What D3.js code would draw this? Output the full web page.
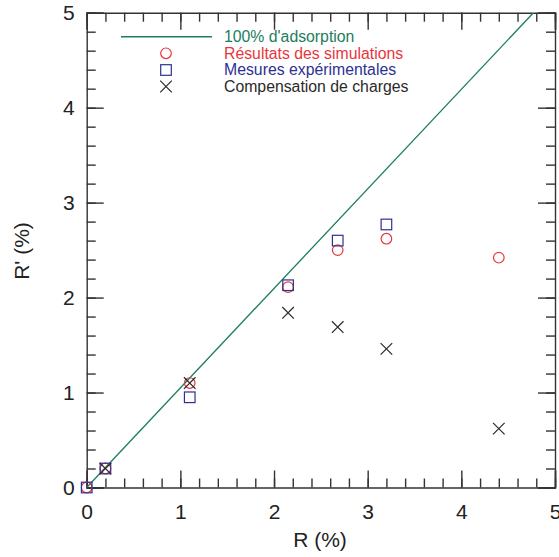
<!DOCTYPE html>
<html><head><meta charset="utf-8">
<script src="https://cdn.jsdelivr.net/npm/d3@7"></script>
<style>body{margin:0;background:#fff}svg{display:block}text{font-family:"Liberation Sans",Arial,sans-serif}</style>
</head><body>
<svg id="c" width="559" height="557"></svg>
<script>
// ---- data ----
const xTicks = [0, 1, 2, 3, 4, 5];
const yTicks = [0, 1, 2, 3, 4, 5];
const minorTicks = d3.range(0, 5.0001, 0.2);
const adsLine = [[0, 0], [4.77, 5]];
const simR = [0, 0.2, 1.1, 2.15, 2.68, 3.2, 4.4];
const simVal = [0, 0.2, 1.1, 2.11, 2.50, 2.62, 2.42];
const mesR = [0, 0.2, 1.1, 2.15, 2.68, 3.2];
const mesVal = [0, 0.2, 0.95, 2.13, 2.60, 2.77];
const compR = [0.2, 1.1, 2.15, 2.68, 3.2, 4.4];
const compVal = [0.2, 1.1, 1.84, 1.69, 1.46, 0.62];
const legendLabels = ["100% d'adsorption", "Résultats des simulations", "Mesures expérimentales", "Compensation de charges"];
const colors = {green: "#1d7d5c", red: "#e8363c", blue: "#2e3192", black: "#2a2a2a"};

const svg = d3.select("#c");
const L = 86.7, R = 555, T = 12.7, B = 487.5;
const x = d3.scaleLinear().domain([0, 5]).range([L, R]);
const y = d3.scaleLinear().domain([0, 5]).range([B, T]);
const axisCol = "#333";

function drawAxis(gen, tr, major, labels, pad) {
  const g = svg.append("g").attr("transform", tr);
  g.call(gen.tickValues(minorTicks).tickSize(-9).tickFormat(""));
  const g2 = svg.append("g").attr("transform", tr);
  g2.call(gen.tickValues(major).tickSize(-17).tickPadding(pad).tickFormat(labels ? d3.format("d") : ""));
  [g, g2].forEach(gg => {
    gg.selectAll("path,line").attr("stroke", axisCol).attr("stroke-width", 1.4);
    gg.selectAll("text").attr("font-size", 21).attr("fill", "#222").attr("font-family", '"Liberation Sans",Arial,sans-serif');
  });
  g.select(".domain").remove();
  return g2;
}
drawAxis(d3.axisBottom(x), `translate(0,${B})`, xTicks, true, 17);
drawAxis(d3.axisTop(x), `translate(0,${T})`, xTicks, false, 10);
drawAxis(d3.axisLeft(y), `translate(${L},0)`, yTicks, true, 12);
drawAxis(d3.axisRight(y), `translate(${R},0)`, yTicks, false, 10);

// clip
svg.append("clipPath").attr("id", "clip").append("rect").attr("x", L).attr("y", T).attr("width", R - L).attr("height", B - T);

// 100% line
svg.append("path").attr("clip-path", "url(#clip)")
  .attr("d", d3.line().x(d => x(d[0])).y(d => y(d[1]))(adsLine))
  .attr("fill", "none").attr("stroke", colors.green).attr("stroke-width", 1.3);

function circle(g, cx, cy) {
  g.append("circle").attr("cx", cx).attr("cy", cy).attr("r", 5.3)
    .attr("fill", "none").attr("stroke", colors.red).attr("stroke-width", 1.2);
}
function square(g, cx, cy) {
  g.append("rect").attr("x", cx - 5.3).attr("y", cy - 5.3).attr("width", 10.6).attr("height", 10.6)
    .attr("fill", "none").attr("stroke", colors.blue).attr("stroke-width", 1.2);
}
function cross(g, cx, cy) {
  const s = 5.8;
  g.append("path").attr("d", `M${cx - s},${cy - s}L${cx + s},${cy + s}M${cx - s},${cy + s}L${cx + s},${cy - s}`)
    .attr("fill", "none").attr("stroke", colors.black).attr("stroke-width", 1.2);
}
const pts = svg.append("g");
simR.forEach((r, i) => circle(pts, x(r), y(simVal[i])));
mesR.forEach((r, i) => square(pts, x(r), y(mesVal[i])));
compR.forEach((r, i) => cross(pts, x(r), y(compVal[i])));

// legend
const lg = svg.append("g");
const rowsY = [36.7, 53.3, 70, 86.5];
lg.append("line").attr("x1", 121).attr("x2", 212).attr("y1", rowsY[0]).attr("y2", rowsY[0])
  .attr("stroke", colors.green).attr("stroke-width", 1.4);
circle(lg, 166, rowsY[1]);
square(lg, 166, rowsY[2]);
cross(lg, 166, rowsY[3]);
const lc = [colors.green, colors.red, colors.blue, colors.black];
legendLabels.forEach((t, i) => {
  lg.append("text").attr("x", 224).attr("y", rowsY[i] + 5.2).attr("font-size", 15.8).attr("fill", lc[i]).text(t);
});

// axis titles
svg.append("text").attr("x", 320).attr("y", 547).attr("text-anchor", "middle").attr("font-size", 21).attr("fill", "#222").text("R (%)");
svg.append("text").attr("transform", "translate(29,251) rotate(-90)").attr("text-anchor", "middle").attr("font-size", 21).attr("fill", "#222").text("R' (%)");
</script>
</body></html>
